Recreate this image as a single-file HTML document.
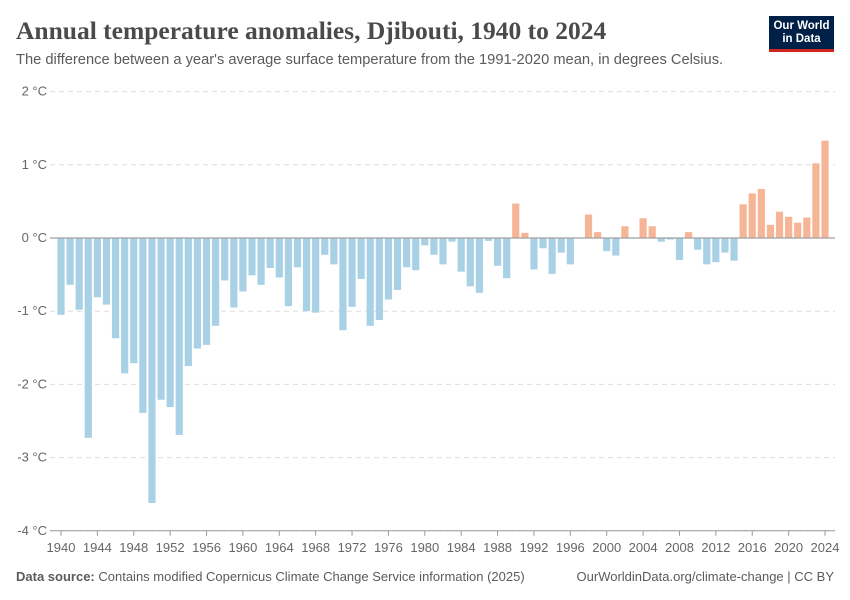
<!DOCTYPE html>
<html><head><meta charset="utf-8"><style>
body{margin:0;width:850px;height:600px;background:#fff;font-family:"Liberation Sans",sans-serif;overflow:hidden;position:relative}
.t{position:absolute;white-space:nowrap}
</style></head><body>
<div class="t" style="left:16px;top:16px;font-family:'Liberation Serif',serif;font-size:25.5px;font-weight:bold;color:#4a4a4a">Annual temperature anomalies, Djibouti, 1940 to 2024</div>
<div class="t" style="left:16px;top:52px;font-size:14.7px;color:#5b5b5b">The difference between a year's average surface temperature from the 1991-2020 mean, in degrees Celsius.</div>
<div style="position:absolute;left:769px;top:16px;width:65px;height:36px;background:#002147;border-bottom:3px solid #ce261e;box-sizing:border-box;color:#fff;font-size:11.5px;font-weight:bold;text-align:center;line-height:13px;padding-top:4px">Our World<br>in Data</div>
<svg id="c" width="850" height="600" style="position:absolute;left:0;top:0"></svg>
<div class="t" style="left:16px;top:569px;font-size:13px;color:#5b5b5b"><b>Data source:</b> Contains modified Copernicus Climate Change Service information (2025)</div>
<div class="t" style="right:16px;top:569px;font-size:13px;color:#5b5b5b">OurWorldinData.org/climate-change | CC BY</div>
<script>
const years=[];for(let y=1940;y<=2024;y++)years.push(y);
const values=[-1.05,-0.64,-0.98,-2.73,-0.81,-0.91,-1.37,-1.85,-1.71,-2.39,-3.62,-2.21,-2.31,-2.69,-1.75,-1.51,-1.46,-1.2,-0.58,-0.95,-0.73,-0.51,-0.64,-0.41,-0.54,-0.93,-0.4,-1.0,-1.02,-0.23,-0.36,-1.26,-0.94,-0.56,-1.2,-1.12,-0.84,-0.71,-0.4,-0.44,-0.10,-0.23,-0.36,-0.05,-0.46,-0.66,-0.75,-0.04,-0.38,-0.55,0.47,0.07,-0.43,-0.14,-0.49,-0.2,-0.36,0.0,0.32,0.08,-0.18,-0.24,0.16,0.0,0.27,0.16,-0.05,-0.02,-0.3,0.08,-0.16,-0.36,-0.33,-0.2,-0.31,0.46,0.61,0.67,0.18,0.36,0.29,0.21,0.28,1.02,1.33];
const yTicks=[2,1,0,-1,-2,-3,-4];
const xTicks=[1940,1944,1948,1952,1956,1960,1964,1968,1972,1976,1980,1984,1988,1992,1996,2000,2004,2008,2012,2016,2020,2024];
const svg=document.getElementById('c');const NS='http://www.w3.org/2000/svg';
const X=y=>61+(y-1940)*(764/84);
const Y=v=>238-v*73.2;
function mk(t,a){const e=document.createElementNS(NS,t);for(const k in a)e.setAttribute(k,a[k]);svg.appendChild(e);return e;}
yTicks.forEach(v=>{
 if(v!==0){const g=mk('line',{x1:50,x2:835,y1:Y(v),y2:Y(v),stroke:'#dddddd','stroke-dasharray':'5,4'});
 
 }
 const t=mk('text',{x:47,y:Y(v)+4,'text-anchor':'end','font-size':13,fill:'#666','font-family':'Liberation Sans'});
 t.textContent=(v<0?'-'+(-v):v)+' °C';
 
 
});
years.forEach((yr,i)=>{const v=values[i];const y0=Y(0),y1=Y(v);
 const r=mk('rect',{x:X(yr)-3.6,y:Math.min(y0,y1),width:7.2,height:Math.abs(y1-y0),fill:v>=0?'#f6b596':'#a9d1e5'});
 
 
});
const z=mk('line',{x1:50,x2:835,y1:Y(0),y2:Y(0),stroke:'#a0a0a0','stroke-width':1.2});


const b=mk('line',{x1:50,x2:835,y1:Y(-4),y2:Y(-4),stroke:'#999'});


xTicks.forEach(yr=>{
 const tk=mk('line',{x1:X(yr),x2:X(yr),y1:Y(-4),y2:Y(-4)+5,stroke:'#999'});
 
 
 const t=mk('text',{x:X(yr),y:552,'text-anchor':'middle','font-size':13,fill:'#666','font-family':'Liberation Sans'});
 t.textContent=yr;
 
 
});
</script>
</body></html>
